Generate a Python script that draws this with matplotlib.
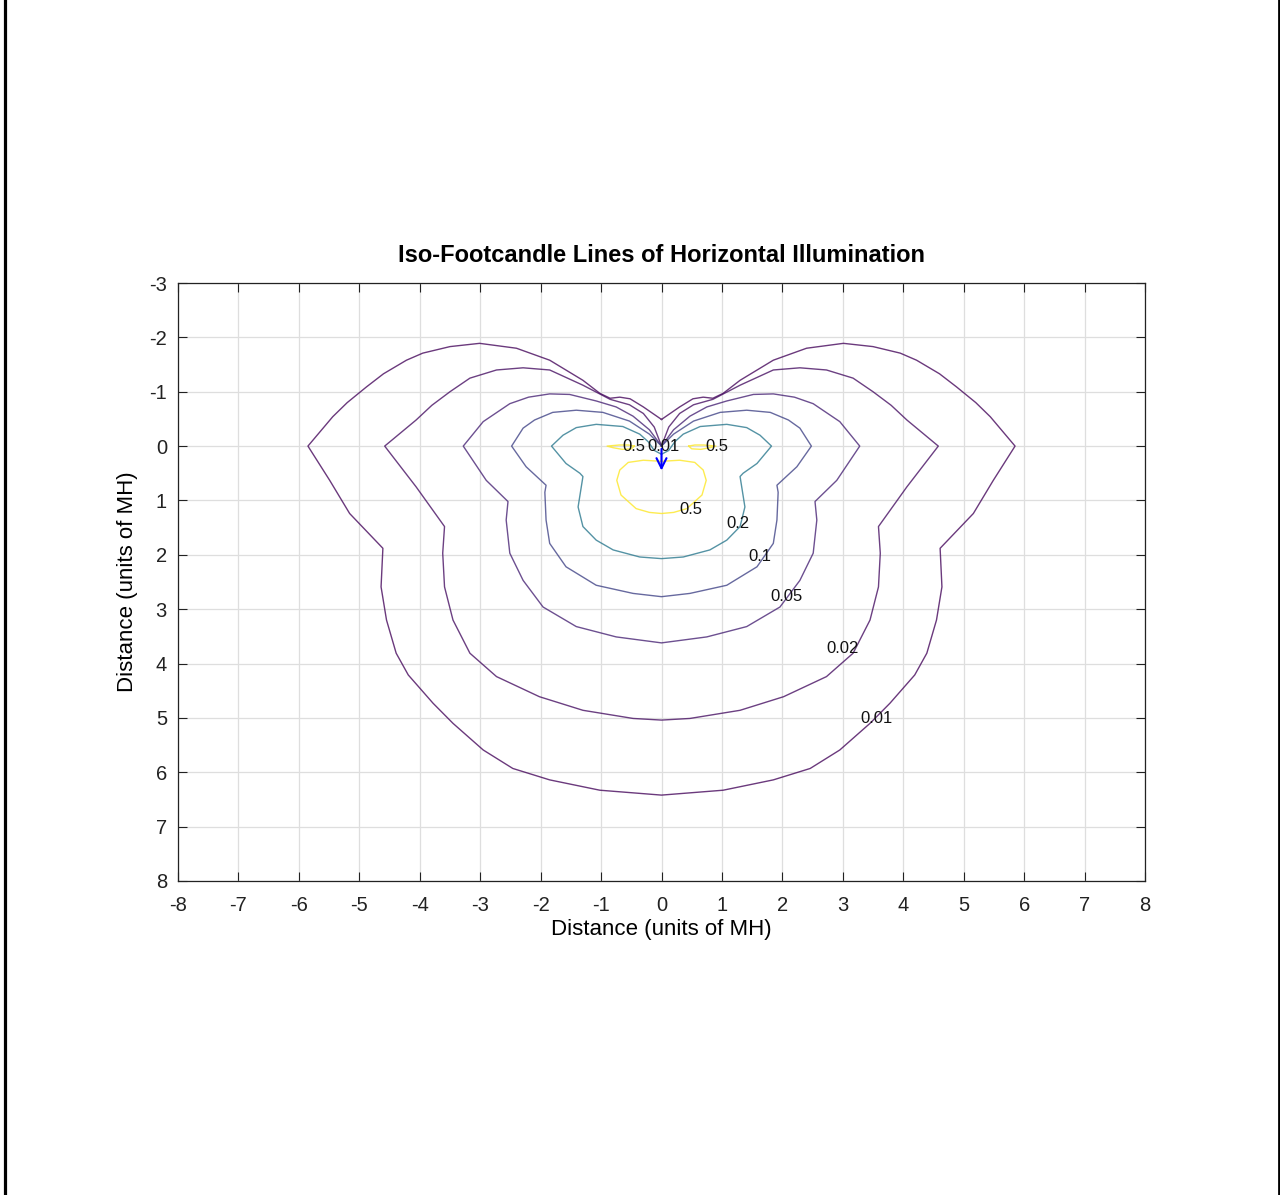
import matplotlib
matplotlib.use('Agg')
import matplotlib.pyplot as plt
from matplotlib.lines import Line2D

# iso-footcandle levels and the right half of each line (x, y in units of MH)
# the pattern is symmetric about x = 0, the left half is the mirror image
levels = [0.01, 0.02, 0.05, 0.1, 0.2, 0.5]

fc001_x = [0, 0.30, 0.52, 0.69, 0.85, 1.02, 1.30, 1.85, 2.40, 3.01, 3.50, 3.95, 4.22, 4.60, 4.88, 5.20, 5.44, 5.85,
           5.49, 5.16, 4.61, 4.64, 4.55, 4.39, 4.19, 3.78, 3.45, 2.95, 2.46, 1.85, 1.02, 0]
fc001_y = [-0.49, -0.72, -0.87, -0.90, -0.88, -0.97, -1.21, -1.58, -1.80, -1.89, -1.83, -1.71, -1.58, -1.33, -1.09, -0.80, -0.54, 0,
           0.63, 1.24, 1.88, 2.59, 3.20, 3.81, 4.21, 4.73, 5.10, 5.59, 5.93, 6.14, 6.33, 6.42]

fc002_x = [0, 0.12, 0.30, 0.53, 0.85, 1.30, 1.85, 2.29, 2.73, 3.17, 3.50, 3.80, 4.06, 4.58,
           4.06, 3.59, 3.62, 3.59, 3.45, 3.17, 2.73, 2.02, 1.30, 0.47, 0]
fc002_y = [0, -0.35, -0.60, -0.76, -0.86, -1.12, -1.40, -1.44, -1.40, -1.25, -1.00, -0.75, -0.48, 0,
           0.75, 1.48, 1.97, 2.59, 3.20, 3.81, 4.24, 4.61, 4.86, 5.01, 5.04]

fc005_x = [0, 0.20, 0.47, 0.75, 1.08, 1.52, 1.85, 2.20, 2.51, 2.95, 3.28,
           2.90, 2.54, 2.57, 2.51, 2.29, 1.96, 1.41, 0.75, 0]
fc005_y = [0, -0.30, -0.55, -0.72, -0.83, -0.95, -0.96, -0.90, -0.78, -0.45, 0,
           0.63, 1.02, 1.36, 1.97, 2.47, 2.96, 3.32, 3.51, 3.62]

fc01_x = [0, 0.20, 0.53, 0.97, 1.41, 1.80, 2.10, 2.29, 2.48,
          2.24, 1.91, 1.93, 1.91, 1.85, 1.58, 1.08, 0.47, 0]
fc01_y = [0, -0.22, -0.46, -0.62, -0.66, -0.62, -0.48, -0.33, 0,
          0.38, 0.72, 0.85, 1.36, 1.79, 2.22, 2.56, 2.71, 2.77]

fc02_x = [0, 0.12, 0.22, 0.36, 0.64, 1.08, 1.41, 1.63, 1.82,
          1.58, 1.35, 1.30, 1.38, 1.30, 1.08, 0.80, 0.36, 0]
fc02_y = [0.15, 0.08, -0.08, -0.22, -0.36, -0.40, -0.34, -0.20, 0,
          0.32, 0.50, 0.56, 1.12, 1.48, 1.73, 1.91, 2.04, 2.07]

fc05_x = [0, 0.30, 0.55, 0.69, 0.74, 0.67, 0.42, 0.20, 0]
fc05_y = [0.28, 0.26, 0.30, 0.44, 0.63, 0.90, 1.15, 1.22, 1.24]

lens_x = [0.45, 0.55, 0.70, 0.90, 0.80, 0.65, 0.50, 0.45]
lens_y = [0.00, -0.02, -0.02, 0.00, 0.03, 0.06, 0.05, 0.00]

# contour labels
label_text = ['0.5', '0.01', '0.5', '0.5', '0.2', '0.1', '0.05', '0.02', '0.01']
label_x = [-0.45, 0.03, 0.91, 0.48, 1.26, 1.63, 2.07, 3.00, 3.55]
label_y = [0.0, 0.0, 0.0, 1.16, 1.43, 2.04, 2.76, 3.72, 5.02]


def mirror(xs, ys):
    full_x = list(xs) + [-x for x in xs[::-1]]
    full_y = list(ys) + list(ys[::-1])
    return full_x, full_y


def main():
    plt.rcParams['font.family'] = ['Liberation Sans', 'DejaVu Sans']
    plt.rcParams['axes.unicode_minus'] = False
    fig = plt.figure(figsize=(12.8, 11.95), dpi=100)
    ax = fig.add_axes([178 / 1280, 314 / 1195, 967 / 1280, 598 / 1195])

    cmap = plt.cm.viridis
    lines = [(fc001_x, fc001_y), (fc002_x, fc002_y), (fc005_x, fc005_y),
             (fc01_x, fc01_y), (fc02_x, fc02_y), (fc05_x, fc05_y)]
    for lev, (xs, ys) in zip(levels, lines):
        fx, fy = mirror(xs, ys)
        ax.plot(fx, fy, color=cmap(lev / 0.5), lw=1.0, alpha=0.8, zorder=3)

    # the two small 0.5 pockets beside the luminaire
    col = cmap(1.0)
    ax.plot(lens_x, lens_y, color=col, lw=1.0, alpha=0.8, zorder=3)
    ax.plot([-x for x in lens_x], lens_y, color=col, lw=1.0, alpha=0.8, zorder=3)

    for t, x, y in zip(label_text, label_x, label_y):
        ax.text(x, y, t, fontsize=12, ha='center', va='center', color='#111111', zorder=4)

    # aiming direction of the luminaire
    ax.annotate('', xy=(0, 0.5), xytext=(0, 0),
                arrowprops=dict(arrowstyle='->', color='blue', lw=1.5, mutation_scale=18), zorder=5)

    ax.set_xlim(-8, 8)
    ax.set_ylim(8, -3)
    ax.set_xticks(range(-8, 9))
    ax.set_yticks(range(-3, 9))
    ax.grid(True, color='#dedede', lw=0.9)
    ax.set_axisbelow(True)
    ax.tick_params(direction='in', length=6.5, width=0.8, labelsize=14.5, top=True, right=True,
                   colors='#222222')
    ax.tick_params(axis='x', pad=11)
    ax.tick_params(axis='y', pad=8)
    for s in ax.spines.values():
        s.set_color('#222222')
        s.set_linewidth(0.9)

    ax.set_xlabel('Distance (units of MH)', fontsize=16, labelpad=3)
    ax.set_ylabel('Distance (units of MH)', fontsize=16, labelpad=8)
    ax.set_title('Iso-Footcandle Lines of Horizontal Illumination', fontsize=17, fontweight='bold', pad=15)

    # black edges at the sides of the picture
    fig.add_artist(Line2D([4.5 / 1280, 4.5 / 1280], [0, 1], color='black', lw=2.3))
    fig.add_artist(Line2D([1278.5 / 1280, 1278.5 / 1280], [0, 1], color='black', lw=2.0))

    fig.savefig('out.png', dpi=100)


main()
